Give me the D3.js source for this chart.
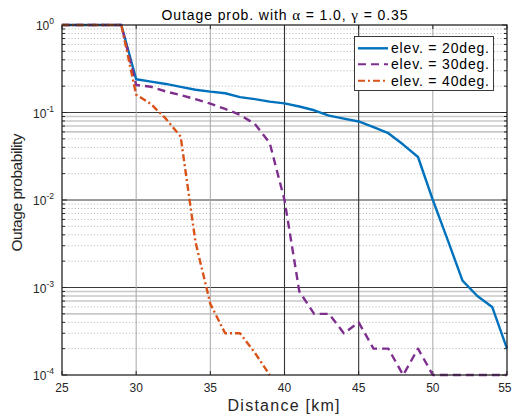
<!DOCTYPE html>
<html>
<head>
<meta charset="utf-8">
<script src="https://cdn.jsdelivr.net/npm/d3@7"></script>
<style>
  html, body { margin: 0; padding: 0; background: #fff; }
  svg { display: block; font-family: "Liberation Sans", Arial, sans-serif; }
</style>
</head>
<body>
<svg id="chart" width="512" height="418"></svg>
<script>
// Distance in km
const distance = [25,26,27,28,29,30,31,32,33,34,35,36,37,38,39,40,41,42,43,44,45,46,47,48,49,50,51,52,53,54,55];

// Outage probability per elevation angle
const elev20 = [1,1,1,1,1,
  0.24,0.225,0.212,0.196,0.182,0.173,0.166,0.15,0.142,0.133,
  0.127,0.117,0.106,0.092,0.085,0.079,0.068,0.058,0.043,0.031,
  0.01,0.0035,0.0012,0.0008,0.0006,0.0002];
const elev30 = [1,1,1,1,1,
  0.206,0.197,0.174,0.158,0.142,0.126,0.11,0.094,0.074,0.045,
  0.01,0.0009,0.0005,0.0005,0.0003,0.0004,0.0002,0.0002,0.0001,0.0002,
  0.0001,0.0001,0.0001,0.0001,0.0001,0.0001];
const elev40 = [1,1,1,1,1,
  0.16,0.125,0.085,0.053,0.0033,0.00065,0.0003,0.0003,0.00018,0.0001,
  null,null,null,null,null,null,null,null,null,null,
  null,null,null,null,null,null];

const seriesNames = ["elev. = 20deg.", "elev. = 30deg.", "elev. = 40deg."];
const xTicks = [25,30,35,40,45,50,55];
const yDecades = [0,-1,-2,-3,-4];

const series = [
  {name: seriesNames[0], values: elev20, color: "#0072BD", dash: null},
  {name: seriesNames[1], values: elev30, color: "#7E2F8E", dash: "8,5"},
  {name: seriesNames[2], values: elev40, color: "#D95319", dash: "7,3,2,3"}
];

const svg = d3.select("#chart");
const L = 62, R = 507, T = 25, B = 375;
const x = d3.scaleLinear().domain([25,55]).range([L,R]);
const y = d3.scaleLog().domain([1e-4,1]).range([B,T]);

const grid = svg.append("g");

// minor horizontal grid (dotted, with some drawn as light solid bands)
const solidMinor = new Set(["-2:9","-2:8","-2:7","-2:6","-4:9","-4:8","-4:7","-4:5"]);
for (let e = -4; e < 0; e++) {
  for (let m = 2; m <= 9; m++) {
    const v = m * Math.pow(10, e);
    const solid = solidMinor.has(e + ":" + m);
    grid.append("line")
      .attr("x1", L).attr("x2", R)
      .attr("y1", y(v)).attr("y2", y(v))
      .attr("stroke", solid ? "#c8c8c8" : "#a8a8a8")
      .attr("stroke-width", solid ? 1.6 : 0.9)
      .attr("stroke-dasharray", solid ? null : "1,2.2");
  }
}
// major horizontal grid
[-1,-2,-3].forEach(e => {
  grid.append("line")
    .attr("x1", L).attr("x2", R)
    .attr("y1", y(Math.pow(10,e))).attr("y2", y(Math.pow(10,e)))
    .attr("stroke", "#3a3a3a").attr("stroke-width", 1.2);
});
// vertical grid
const darkV = new Set([40,45]);
xTicks.filter(t => t > 25 && t < 55).forEach(t => {
  grid.append("line")
    .attr("x1", x(t)).attr("x2", x(t))
    .attr("y1", T).attr("y2", B)
    .attr("stroke", darkV.has(t) ? "#333" : "#a8a8a8")
    .attr("stroke-width", darkV.has(t) ? 1.1 : 1);
});

// axis ticks (inside, all four sides)
const tk = svg.append("g").attr("stroke", "#262626").attr("stroke-width", 1);
for (let e = -4; e <= 0; e++) {
  for (let m = 1; m <= 9; m++) {
    if (e === 0 && m > 1) break;
    const v = m * Math.pow(10, e);
    const len = m === 1 ? 5 : 3;
    tk.append("line").attr("x1", L).attr("x2", L + len).attr("y1", y(v)).attr("y2", y(v));
    tk.append("line").attr("x1", R).attr("x2", R - len).attr("y1", y(v)).attr("y2", y(v));
  }
}
xTicks.forEach(t => {
  tk.append("line").attr("x1", x(t)).attr("x2", x(t)).attr("y1", B).attr("y2", B - 4);
  tk.append("line").attr("x1", x(t)).attr("x2", x(t)).attr("y1", T).attr("y2", T + 4);
});

// data lines
const line = d3.line()
  .defined(d => d[1] != null)
  .x(d => x(d[0]))
  .y(d => y(d[1]));
series.forEach(s => {
  svg.append("path")
    .datum(distance.map((d, i) => [d, s.values[i]]))
    .attr("fill", "none")
    .attr("stroke", s.color)
    .attr("stroke-width", 2.4)
    .attr("stroke-linejoin", "round")
    .attr("stroke-dasharray", s.dash)
    .attr("d", line);
});

// axes box
svg.append("rect")
  .attr("x", L).attr("y", T).attr("width", R - L).attr("height", B - T)
  .attr("fill", "none").attr("stroke", "#262626").attr("stroke-width", 1.3);

// x tick labels (the last one is kept inside the page edge)
svg.append("g").selectAll("text").data(xTicks).join("text")
  .attr("x", (d, i) => i === xTicks.length - 1 ? 511.5 : x(d)).attr("y", 391.5)
  .attr("text-anchor", (d, i) => i === xTicks.length - 1 ? "end" : "middle")
  .attr("font-size", 12).attr("fill", "#262626")
  .text(d => d);

// y tick labels
yDecades.forEach(e => {
  const t = svg.append("text")
    .attr("x", 54).attr("y", y(Math.pow(10, e)) + 5)
    .attr("text-anchor", "end")
    .attr("font-size", 12).attr("fill", "#262626");
  t.append("tspan").text("10");
  t.append("tspan").attr("dy", -6).attr("font-size", 8.5).text(e === 0 ? "0" : "-" + (-e));
});

// title
const title = svg.append("text")
  .attr("x", 284.5).attr("y", 20)
  .attr("text-anchor", "middle")
  .attr("font-size", 14).attr("fill", "#000")
  .attr("textLength", 246).attr("lengthAdjust", "spacing");
title.append("tspan").text("Outage prob. with ");
title.append("tspan").attr("font-family", "Liberation Serif").attr("font-size", 15).text("α");
title.append("tspan").text(" = 1.0, ");
title.append("tspan").attr("font-family", "Liberation Serif").attr("font-size", 15).text("γ");
title.append("tspan").text(" = 0.35");

// axis labels
svg.append("text")
  .attr("x", 283.5).attr("y", 411)
  .attr("text-anchor", "middle")
  .attr("font-size", 16).attr("fill", "#262626")
  .attr("textLength", 112).attr("lengthAdjust", "spacing")
  .text("Distance [km]");
svg.append("text")
  .attr("transform", "translate(21.5,192.5) rotate(-90)")
  .attr("text-anchor", "middle")
  .attr("font-size", 15.5).attr("fill", "#262626")
  .attr("textLength", 118).attr("lengthAdjust", "spacing")
  .text("Outage probability");

// legend
const lg = svg.append("g");
lg.append("rect")
  .attr("x", 354.5).attr("y", 36.5).attr("width", 139).attr("height", 54)
  .attr("fill", "#fff").attr("stroke", "#262626").attr("stroke-width", 0.9);
const rowsY = [48.3, 64.3, 80.7];
series.forEach((s, i) => {
  lg.append("line")
    .attr("x1", 358).attr("x2", 388)
    .attr("y1", rowsY[i]).attr("y2", rowsY[i])
    .attr("stroke", s.color).attr("stroke-width", s.dash ? 2 : 2.4)
    .attr("stroke-dasharray", s.dash);
  lg.append("text")
    .attr("x", 391).attr("y", rowsY[i] + 5)
    .attr("font-size", 14).attr("fill", "#000")
    .attr("textLength", 98).attr("lengthAdjust", "spacing")
    .text(s.name);
});
</script>
</body>
</html>
